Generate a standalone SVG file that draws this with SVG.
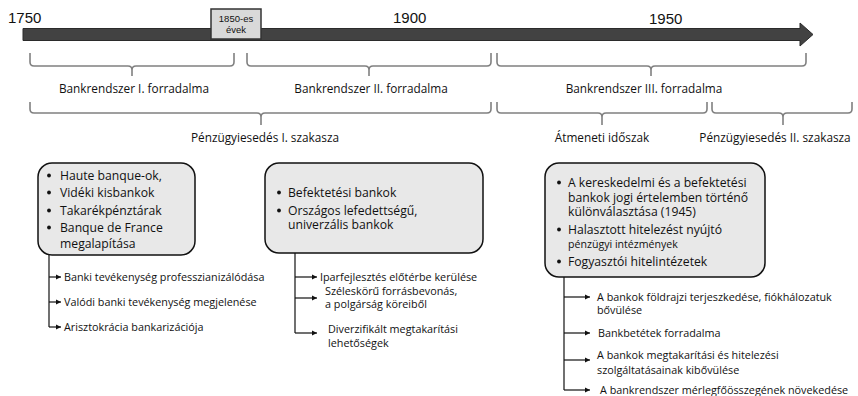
<svg xmlns="http://www.w3.org/2000/svg" width="858" height="396" viewBox="0 0 858 396">
<defs>
<style>
text{font-family:"Open Sans","Liberation Sans",Arial,sans-serif;fill:#111}
.yr{font-family:"Liberation Sans",Arial,sans-serif;font-size:15px}
.lbl{font-size:11.8px;text-anchor:middle}
.brace{fill:none;stroke:#808080;stroke-width:1.6}
.box{fill:#e8e8e8;stroke:#111;stroke-width:1.5}
.bt{font-size:12.2px}
.bu{fill:#111}
.st{font-size:10.8px}
.conn{fill:none;stroke:#111;stroke-width:1.2}
</style>
<marker id="ah" markerWidth="6" markerHeight="6" refX="5" refY="3" orient="auto" markerUnits="userSpaceOnUse">
<path d="M0,0.5 L5,3 L0,5.5 Z" fill="#111"/>
</marker>
</defs>
<g id="timeline">
<path d="M23,28.5 L800,28.5 L800,23 L813,34.5 L800,46 L800,40.5 L23,40.5 Z" fill="#424242" stroke="#2b2b2b" stroke-width="1"/>
<text class="yr" x="8" y="23">1750</text>
<text class="yr" x="393" y="23">1900</text>
<text class="yr" x="649" y="24">1950</text>
</g>
<g id="box1850">
<rect x="211" y="9" width="50" height="30" fill="#d9d9d9" stroke="#333" stroke-width="1.5"/>
<text x="236" y="22" font-size="9.5" text-anchor="middle" style="font-family:'Liberation Sans',Arial,sans-serif">1850-es</text>
<text x="236" y="33" font-size="9.5" text-anchor="middle" style="font-family:'Liberation Sans',Arial,sans-serif">évek</text>
</g>
<g id="braces">
<path class="brace" d="M30,53 L30,62 Q30,66 34,66 L128,66 Q132,66 132,70 L132,76 M132,70 Q132,66 136,66 L230,66 Q234,66 234,62 L234,53"/>
<path class="brace" d="M247,53 L247,62 Q247,66 251,66 L365,66 Q369,66 369,70 L369,76 M369,70 Q369,66 373,66 L487,66 Q491,66 491,62 L491,53"/>
<path class="brace" d="M497,53 L497,62 Q497,66 501,66 L647,66 Q651,66 651,70 L651,76 M651,70 Q651,66 655,66 L802,66 Q806,66 806,62 L806,53"/>
<path class="brace" d="M30,102 L30,109 Q30,113 34,113 L257,113 Q261,113 261,117 L261,125 M261,117 Q261,113 265,113 L487,113 Q491,113 491,109 L491,102"/>
<path class="brace" d="M497,102 L497,109 Q497,113 501,113 L598,113 Q602,113 602,117 L602,125 M602,117 Q602,113 606,113 L703,113 Q707,113 707,109 L707,102"/>
<path class="brace" d="M712,102 L712,109 Q712,113 716,113 L779,113 Q783,113 783,117 L783,125 M783,117 Q783,113 787,113 L848,113 Q852,113 852,109 L852,102"/>
</g>
<g id="labels">
<text class="lbl" x="134" y="93">Bankrendszer I. forradalma</text>
<text class="lbl" x="371" y="93">Bankrendszer II. forradalma</text>
<text class="lbl" x="644" y="93">Bankrendszer III. forradalma</text>
<text class="lbl" x="265" y="142">Pénzügyiesedés I. szakasza</text>
<text class="lbl" x="602" y="142">Átmeneti időszak</text>
<text class="lbl" x="775" y="142">Pénzügyiesedés II. szakasza</text>
</g>
<g id="node1">
<rect class="box" x="38" y="163" width="157" height="92" rx="14"/>
<circle class="bu" cx="49" cy="175.5" r="1.9"/><text class="bt" x="60" y="180">Haute banque-ok,</text>
<circle class="bu" cx="49" cy="192.5" r="1.9"/><text class="bt" x="60" y="197">Vidéki kisbankok</text>
<circle class="bu" cx="49" cy="210.5" r="1.9"/><text class="bt" x="60" y="215">Takarékpénztárak</text>
<circle class="bu" cx="49" cy="227.5" r="1.9"/><text class="bt" x="60" y="232">Banque de France</text>
<text class="bt" x="60" y="248">megalapítása</text>
</g>
<g id="node2">
<rect class="box" x="265" y="163" width="218" height="90" rx="14"/>
<circle class="bu" cx="279" cy="192.5" r="1.9"/><text class="bt" x="288" y="197">Befektetési bankok</text>
<circle class="bu" cx="279" cy="210.5" r="1.9"/><text class="bt" x="288" y="215">Országos lefedettségű,</text>
<text class="bt" x="288" y="229">univerzális bankok</text>
</g>
<g id="node3">
<rect class="box" x="545" y="163" width="220" height="114" rx="14"/>
<circle class="bu" cx="559" cy="182.5" r="1.9"/><text class="bt" x="568" y="187">A kereskedelmi és a befektetési</text>
<text class="bt" x="568" y="202">bankok jogi értelemben történő</text>
<text class="bt" x="568" y="216">különválasztása (1945)</text>
<circle class="bu" cx="559" cy="229.5" r="1.9"/><text class="bt" x="568" y="234">Halasztott hitelezést nyújtó</text>
<text x="568" y="248" font-size="10.6">pénzügyi intézmények</text>
<circle class="bu" cx="559" cy="261.5" r="1.9"/><text class="bt" x="568" y="266">Fogyasztói hitelintézetek</text>
</g>
<g id="connectors">
<path class="conn" d="M49,255 L49,327"/>
<path class="conn" d="M49,277 L61,277" marker-end="url(#ah)"/>
<path class="conn" d="M49,302 L61,302" marker-end="url(#ah)"/>
<path class="conn" d="M49,327 L61,327" marker-end="url(#ah)"/>
<path class="conn" d="M295,253 L295,333"/>
<path class="conn" d="M295,277 L317,277" marker-end="url(#ah)"/>
<path class="conn" d="M295,298 L317,298" marker-end="url(#ah)"/>
<path class="conn" d="M295,333 L317,333" marker-end="url(#ah)"/>
<path class="conn" d="M564,277 L564,390"/>
<path class="conn" d="M564,297 L590,297" marker-end="url(#ah)"/>
<path class="conn" d="M564,333 L590,333" marker-end="url(#ah)"/>
<path class="conn" d="M564,360 L590,360" marker-end="url(#ah)"/>
<path class="conn" d="M564,390 L590,390" marker-end="url(#ah)"/>
</g>
<g id="subtexts">
<text class="st" x="64" y="281">Banki tevékenység professzianizálódása</text>
<text class="st" x="64" y="306">Valódi banki tevékenység megjelenése</text>
<text class="st" x="64" y="331">Arisztokrácia bankarizációja</text>
<text class="st" x="320" y="280.5">Iparfejlesztés előtérbe kerülése</text>
<text class="st" x="325" y="295">Széleskörű forrásbevonás,</text>
<text class="st" x="325" y="308">a polgárság köreiből</text>
<text class="st" x="328" y="333">Diverzifikált megtakarítási</text>
<text class="st" x="328" y="347">lehetőségek</text>
<text class="st" x="597" y="301">A bankok földrajzi terjeszkedése, fiókhálozatuk</text>
<text class="st" x="597" y="314">bővülése</text>
<text class="st" x="598" y="337">Bankbetétek forradalma</text>
<text class="st" x="597" y="359">A bankok megtakarítási és hitelezési</text>
<text class="st" x="597" y="374">szolgáltatásainak kibővülése</text>
<text class="st" x="600" y="394">A bankrendszer mérlegfőösszegének növekedése</text>
</g>
</svg>
